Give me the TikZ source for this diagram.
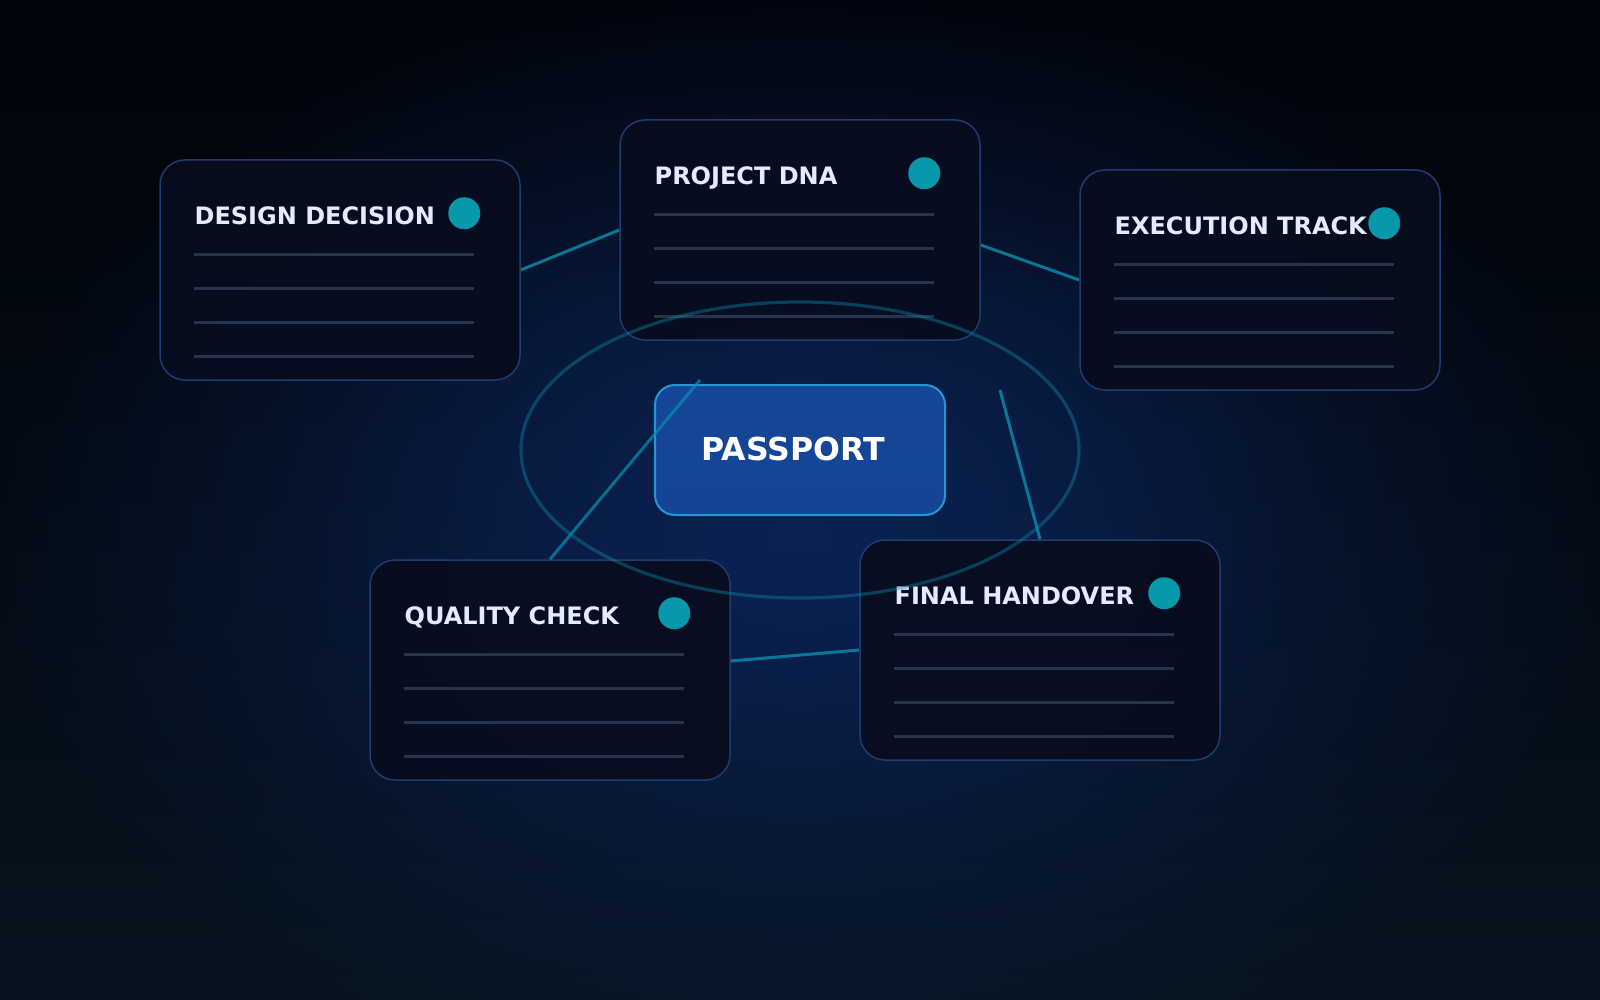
\documentclass[tikz,border=0pt]{standalone}
\usepackage{fontspec}
\setmainfont{DejaVu Sans}
\usetikzlibrary{calc,fadings,shapes.geometric}
\definecolor{bgtop}{RGB}{1,4,12}
\definecolor{bgbot}{RGB}{7,20,31}
\definecolor{glow}{RGB}{11,34,82}
\definecolor{cardfill}{RGB}{8,13,30}
\definecolor{cardedge}{RGB}{32,60,112}
\definecolor{rulecol}{RGB}{40,52,78}
\definecolor{titlecol}{RGB}{226,236,252}
\definecolor{dotcol}{RGB}{8,152,172}
\definecolor{linkcol}{RGB}{10,140,175}
\definecolor{ppfill}{RGB}{21,68,148}
\definecolor{ppfilltop}{RGB}{22,70,152}
\definecolor{ppedge}{RGB}{38,150,212}
\tikzfading[name=glowfade, inner color=transparent!0, outer color=transparent!100]
\tikzset{
  card/.style={draw=cardedge, line width=0.75pt, fill=cardfill, fill opacity=0.93,
    rounded corners=12.5pt, minimum width=180pt, minimum height=110pt, inner sep=0pt},
  cardtitle/.style={anchor=base west, inner sep=0pt, text=titlecol,
    font=\fontsize{12}{14}\selectfont\bfseries},
  dot/.style={circle, fill=dotcol, minimum size=16pt, inner sep=0pt},
  rule/.style={draw=rulecol, line width=1.35pt},
  link/.style={draw=linkcol, line width=1.5pt, draw opacity=0.82},
  ring/.style={draw=linkcol, line width=1.6pt, draw opacity=0.4},
  passport/.style={draw=ppedge, line width=1pt, top color=ppfilltop, bottom color=ppfill,
    rounded corners=10pt, minimum width=145pt, minimum height=65pt, inner sep=0pt},
  pptitle/.style={anchor=base west, inner sep=0pt, text=white,
    font=\fontsize{15.8}{18}\selectfont\bfseries}
}
\newcommand\makecard[4]{%
  \node[card] (#1) at (#2,#3) {};
  \node[cardtitle] (#1-title) at ($(#1.north west)+(35,65)$) {#4};
  \node[dot] (#1-dot) at ($(#1.north west)+(305,54)$) {};
  \foreach \k in {0,1,2,3}{
    \draw[rule] ($(#1.north west)+(35,95+34*\k)$) -- ++(280,0);
  }%
}
\begin{document}
\begin{tikzpicture}[x=0.5pt, y=-0.5pt]
  \useasboundingbox (0,0) rectangle (1600,1000);
  % background
  \shade[top color=bgtop, bottom color=bgbot, middle color=bgtop!60!bgbot] (0,0) rectangle (1600,1000);
  \fill[glow, path fading=glowfade] (800,540) ellipse [x radius=820, y radius=560];
  \fill[glow, path fading=glowfade, fill opacity=0.55] (800,520) ellipse [x radius=520, y radius=360];

  % cards (positions only)
  \node[card, draw=none, fill=none] (dd) at (340,270) {};
  \node[card, draw=none, fill=none] (dna) at (800,230) {};
  \node[card, draw=none, fill=none] (ex) at (1260,280) {};
  \node[card, draw=none, fill=none] (qc) at (550,670) {};
  \node[card, draw=none, fill=none] (fh) at (1040,650) {};

  % connector end points
  \coordinate (dna-r) at ($(dna.east)+(0,15)$);
  \coordinate (qc-r) at ($(qc.east)+(0,-9)$);
  \coordinate (pp-a) at (700,380);
  \coordinate (pp-b) at (1000,390);

  % connectors under cards
  \draw[link] (dd.east) -- (dna.west);
  \draw[link] (dna-r) -- (ex.west);
  \draw[link] (qc-r) -- (fh.west);

  % cards
  \makecard{dd}{340}{270}{DESIGN DECISION}
  \makecard{dna}{800}{230}{PROJECT DNA}
  \makecard{ex}{1260}{280}{EXECUTION TRACK}
  \makecard{qc}{550}{670}{QUALITY CHECK}
  \makecard{fh}{1040}{650}{FINAL HANDOVER}

  % orbit ring
  \draw[ring] (800,450) ellipse [x radius=279, y radius=148];

  % passport
  \node[passport] (pp) at (800,450) {};
  \node[pptitle] (pp-title) at (701,460) {PASSPORT};

  % passport connectors
  \draw[link, draw opacity=0.72] (pp-a) -- (qc.north);
  \draw[link] (pp-b) -- (fh.north);
\end{tikzpicture}
\end{document}
